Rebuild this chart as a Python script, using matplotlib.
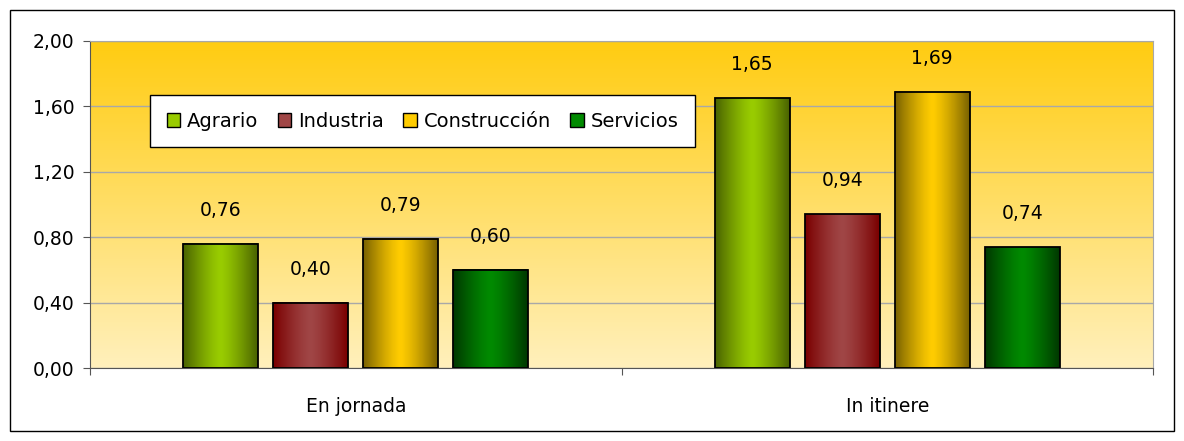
import numpy as np
import matplotlib
matplotlib.use('Agg')
import matplotlib.pyplot as plt
from matplotlib.patches import Patch, Rectangle
from matplotlib.colors import LinearSegmentedColormap

categorias = ['En jornada', 'In itinere']
sectores = ['Agrario', 'Industria', 'Construcción', 'Servicios']
valores = {
    'Agrario': [0.76, 1.65],
    'Industria': [0.40, 0.94],
    'Construcción': [0.79, 1.69],
    'Servicios': [0.60, 0.74],
}
etiquetas = {
    'Agrario': ['0,76', '1,65'],
    'Industria': ['0,40', '0,94'],
    'Construcción': ['0,79', '1,69'],
    'Servicios': ['0,60', '0,74'],
}
y_ticks = [0.0, 0.4, 0.8, 1.2, 1.6, 2.0]
y_labels = ['0,00', '0,40', '0,80', '1,20', '1,60', '2,00']

# color claro (centro) y oscuro (bordes) de cada serie
colores = {
    'Agrario': ('#99CC00', '#4A6300'),
    'Industria': ('#A04646', '#7A0000'),
    'Construcción': ('#FFCC00', '#7A6200'),
    'Servicios': ('#008A00', '#003800'),
}

plt.rcParams['font.family'] = ['DejaVu Sans']
fs = 13.5

fig = plt.figure(figsize=(11.84, 4.41), dpi=100)
ax = fig.add_axes([90 / 1184, 1 - 368 / 441, 1063 / 1184, 327 / 441])

# fondo degradado
fondo = LinearSegmentedColormap.from_list('fondo', ['#FFF0BC', '#FFCC11'])
ax.imshow(np.linspace(0, 1, 256).reshape(-1, 1), extent=[0, 2, 0, 2],
          origin='lower', aspect='auto', cmap=fondo, zorder=0)

ancho = 0.141
paso = 0.1695
x = np.arange(len(categorias)) + 0.5
perfil = np.abs(np.linspace(-1, 1, 64)) ** 1.3

for i, s in enumerate(sectores):
    pos = x + (i - 1.5) * paso
    barras = ax.bar(pos, valores[s], width=ancho, facecolor='none',
                    edgecolor='black', linewidth=1.3, zorder=3)
    cmap = LinearSegmentedColormap.from_list(s, [colores[s][0], colores[s][1]])
    for b, lab in zip(barras, etiquetas[s]):
        x0, w, h = b.get_x(), b.get_width(), b.get_height()
        ax.imshow(perfil.reshape(1, -1), extent=[x0, x0 + w, 0, h],
                  aspect='auto', cmap=cmap, vmin=0, vmax=1, zorder=2)
        ax.annotate(lab, (x0 + w / 2, h), xytext=(0, 24),
                    textcoords='offset points', ha='center', va='center',
                    fontsize=fs)

ax.set_xlim(0, 2)
ax.set_ylim(0, 2)

ax.set_yticks(y_ticks)
ax.set_yticklabels(y_labels, fontsize=fs)
ax.set_xticks([0, 1, 2])
ax.set_xticklabels([])
ax.set_xticks(x, minor=True)
ax.set_xticklabels(categorias, minor=True, fontsize=fs)
ax.tick_params(axis='x', which='minor', length=0, pad=21)
ax.tick_params(axis='x', which='major', length=5, color='#555555')
ax.tick_params(axis='y', length=5, color='#555555', pad=6)

ax.grid(axis='y', color='#A8A8A8', linewidth=1, zorder=1)
for g in ax.get_ygridlines():
    g.set_zorder(1)

ax.spines['left'].set_color('#555555')
ax.spines['bottom'].set_color('#555555')
ax.spines['top'].set_color('#A8A8A8')
ax.spines['right'].set_color('#A8A8A8')

handles = [Patch(facecolor=colores[s][0], edgecolor='black', linewidth=1) for s in sectores]
leg = ax.legend(handles, sectores, ncol=4, loc='upper left',
                bbox_to_anchor=(60 / 1063, 1 - 54 / 327), fontsize=14,
                fancybox=False, framealpha=1, edgecolor='black',
                handlelength=0.7, handleheight=0.7, handletextpad=0.35,
                columnspacing=1.0, borderpad=0.85, borderaxespad=0)
leg.get_frame().set_linewidth(1)
leg.set_zorder(5)

fig.patches.append(Rectangle((10 / 1184, 10 / 441), 1164 / 1184, 421 / 441,
                             transform=fig.transFigure, fill=False,
                             edgecolor='black', linewidth=1))

fig.savefig('out.png', dpi=100)
